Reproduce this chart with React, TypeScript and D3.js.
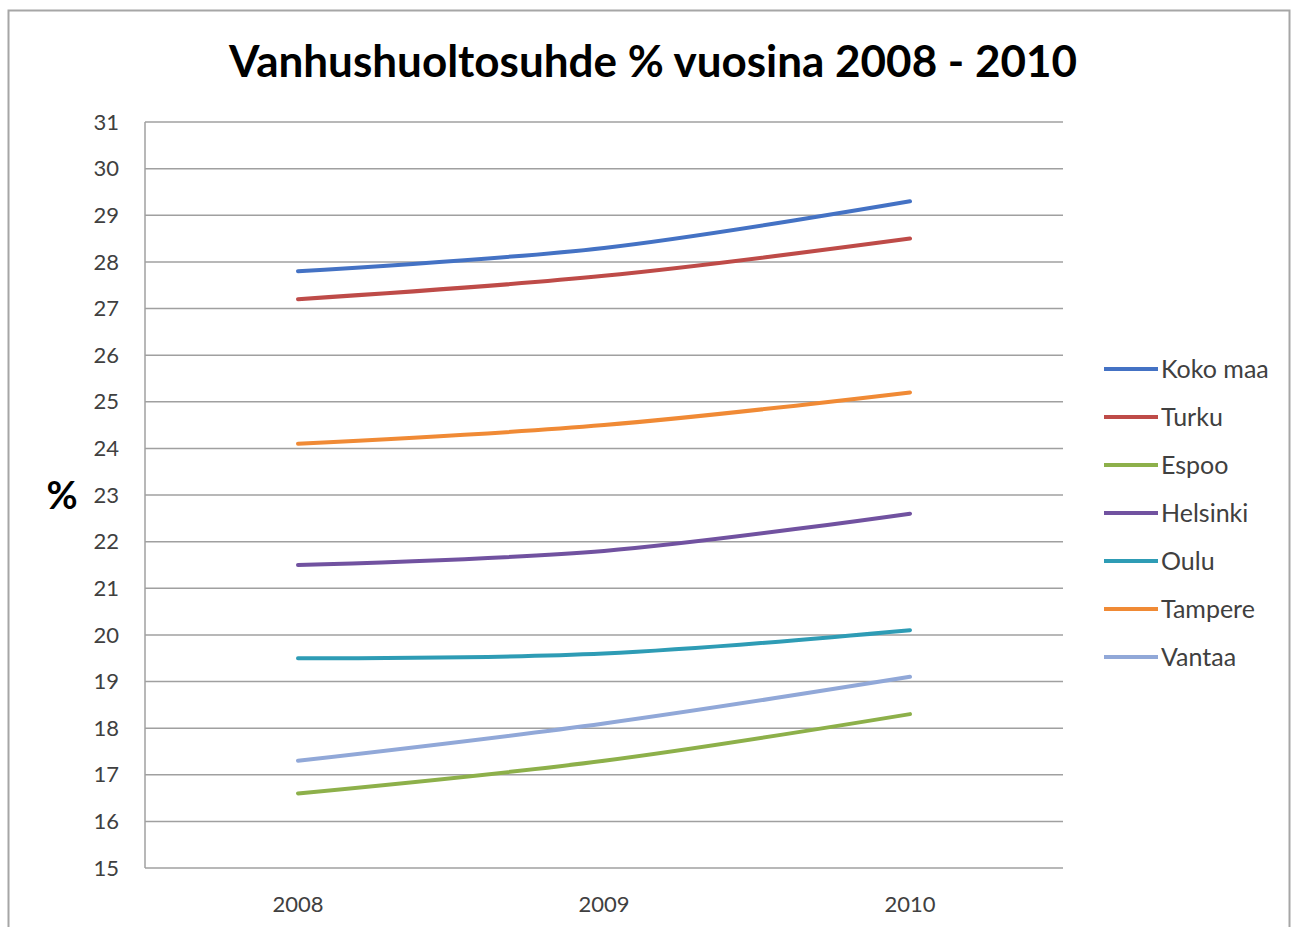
import React, { useEffect, useRef } from 'react';
import * as d3 from 'd3';

const years = ['2008', '2009', '2010'];
const seriesNames = ['Koko maa', 'Turku', 'Espoo', 'Helsinki', 'Oulu', 'Tampere', 'Vantaa'];
const seriesColors = ['#4472C4', '#BE4B48', '#8DB04A', '#7152A0', '#2E9CB5', '#F08A35', '#91A8D8'];
const kokoMaa = [27.8, 28.3, 29.3];
const turku = [27.2, 27.7, 28.5];
const espoo = [16.6, 17.3, 18.3];
const helsinki = [21.5, 21.8, 22.6];
const oulu = [19.5, 19.6, 20.1];
const tampere = [24.1, 24.5, 25.2];
const vantaa = [17.3, 18.1, 19.1];
const yTicks = d3.range(15, 32);

export default function App() {
  const svgRef = useRef<SVGSVGElement>(null);

  useEffect(() => {
    if (!svgRef.current) return;
    const width = 1295;
    const height = 927;
    const font = 'Lato, "Open Sans", sans-serif';

    d3.select(svgRef.current).selectAll('*').remove();
    const svg = d3.select(svgRef.current).attr('width', width).attr('height', height);

    svg.append('rect').attr('width', width).attr('height', height).attr('fill', '#fff');
    // chart border
    svg.append('rect')
      .attr('x', 8.5).attr('y', 10.5).attr('width', 1281).attr('height', 930)
      .attr('fill', 'none').attr('stroke', '#a6a6a6').attr('stroke-width', 2);

    const plot = { left: 145, right: 1063, top: 122, bottom: 868 };
    const x = d3.scaleBand().domain(years).range([plot.left, plot.right]);
    const y = d3.scaleLinear().domain([15, 31]).range([plot.bottom, plot.top]);

    // gridlines
    svg.append('g')
      .selectAll('line')
      .data(yTicks)
      .join('line')
      .attr('x1', plot.left).attr('x2', plot.right)
      .attr('y1', d => y(d)).attr('y2', d => y(d))
      .attr('stroke', '#a0a0a0').attr('stroke-width', 1.5);

    // y axis line
    svg.append('line')
      .attr('x1', plot.left).attr('x2', plot.left)
      .attr('y1', plot.top).attr('y2', plot.bottom)
      .attr('stroke', '#a0a0a0').attr('stroke-width', 1.5);

    // y tick labels
    svg.append('g')
      .selectAll('text')
      .data(yTicks)
      .join('text')
      .attr('x', 119).attr('y', d => y(d))
      .attr('dy', '0.35em')
      .attr('text-anchor', 'end')
      .attr('fill', '#404040')
      .style('font-family', font).style('font-size', '22px')
      .text(d => d);

    // x tick labels
    svg.append('g')
      .selectAll('text')
      .data(years)
      .join('text')
      .attr('x', d => (x(d) as number) + x.bandwidth() / 2)
      .attr('y', 904).attr('dy', '0.35em')
      .attr('text-anchor', 'middle')
      .attr('fill', '#404040')
      .style('font-family', font).style('font-size', '22px')
      .text(d => d);

    // title
    svg.append('text')
      .attr('x', 653).attr('y', 62).attr('dy', '0.35em')
      .attr('text-anchor', 'middle')
      .attr('fill', '#000')
      .style('font-family', font).style('font-size', '44px').style('font-weight', 'bold')
      .text('Vanhushuoltosuhde % vuosina 2008 - 2010');

    // axis title
    svg.append('text')
      .attr('x', 62).attr('y', 496).attr('dy', '0.35em')
      .attr('text-anchor', 'middle')
      .attr('fill', '#000')
      .style('font-family', font).style('font-size', '38px').style('font-weight', 'bold')
      .text('%');

    const allSeries = [kokoMaa, turku, espoo, helsinki, oulu, tampere, vantaa];
    const line = d3.line<number>()
      .x((d, i) => (x(years[i]) as number) + x.bandwidth() / 2)
      .y(d => y(d))
      .curve(d3.curveCatmullRom.alpha(0.5));

    allSeries.forEach((vals, i) => {
      svg.append('path')
        .datum(vals)
        .attr('fill', 'none')
        .attr('stroke', seriesColors[i])
        .attr('stroke-width', 4)
        .attr('stroke-linecap', 'round')
        .attr('d', line);
    });

    // legend
    const lg = svg.append('g');
    seriesNames.forEach((name, i) => {
      const ly = 369 + i * 48;
      lg.append('line')
        .attr('x1', 1104).attr('x2', 1158)
        .attr('y1', ly).attr('y2', ly)
        .attr('stroke', seriesColors[i]).attr('stroke-width', 4);
      lg.append('text')
        .attr('x', 1161).attr('y', ly).attr('dy', '0.35em')
        .attr('fill', '#404040')
        .style('font-family', font).style('font-size', '25px')
        .text(name);
    });
  }, []);

  return (
    <div style={{ position: 'absolute', left: 0, top: 0 }}>
      <svg ref={svgRef} style={{ display: 'block' }} />
    </div>
  );
}
